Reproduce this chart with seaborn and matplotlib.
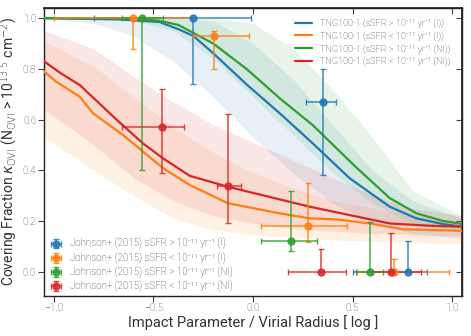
import numpy as np
import pandas as pd
import seaborn as sns
import matplotlib.pyplot as plt
from matplotlib.legend import Legend

sns.set_theme(style="ticks")
plt.rcParams['font.family'] = ['Roboto', 'DejaVu Sans']
plt.rcParams['font.weight'] = 'light'
plt.rcParams['mathtext.fontset'] = 'dejavusans'

colors = ['#1f77b4', '#ff7f0e', '#2ca02c', '#d62728']
labels = [
    'TNG100-1 (sSFR > 10⁻¹¹ yr⁻¹ (I))',
    'TNG100-1 (sSFR < 10⁻¹¹ yr⁻¹ (I))',
    'TNG100-1 (sSFR > 10⁻¹¹ yr⁻¹ (NI))',
    'TNG100-1 (sSFR < 10⁻¹¹ yr⁻¹ (NI))',
]
obs_labels = [
    'Johnson+ (2015) sSFR > 10⁻¹¹ yr⁻¹ (I)',
    'Johnson+ (2015) sSFR < 10⁻¹¹ yr⁻¹ (I)',
    'Johnson+ (2015) sSFR > 10⁻¹¹ yr⁻¹ (NI)',
    'Johnson+ (2015) sSFR < 10⁻¹¹ yr⁻¹ (NI)',
]

# TNG median curves
blue_x = [-1.05, -0.67, -0.47, -0.37, -0.30, -0.20, -0.03, 0.134, 0.30, 0.486, 0.687, 0.821, 0.953, 1.05]
blue_y = [1.0, 0.995, 0.985, 0.955, 0.93, 0.862, 0.737, 0.625, 0.506, 0.368, 0.256, 0.21, 0.188, 0.177]
orange_x = [-1.05, -0.99, -0.87, -0.804, -0.653, -0.452, -0.318, -0.127, 0.134, 0.285, 0.42, 0.586, 0.753, 1.05]
orange_y = [0.79, 0.75, 0.69, 0.625, 0.539, 0.408, 0.342, 0.27, 0.23, 0.21, 0.206, 0.19, 0.167, 0.161]
green_x = [-1.05, -0.6, -0.47, -0.374, -0.2, -0.033, 0.134, 0.30, 0.52, 0.687, 0.821, 0.953, 1.05]
green_y = [1.0, 0.998, 0.99, 0.973, 0.90, 0.80, 0.684, 0.578, 0.41, 0.29, 0.23, 0.20, 0.188]
red_x = [-1.05, -0.97, -0.87, -0.686, -0.553, -0.452, -0.318, -0.127, 0.134, 0.285, 0.486, 0.687, 0.888, 1.05]
red_y = [0.83, 0.785, 0.736, 0.60, 0.506, 0.447, 0.378, 0.335, 0.285, 0.256, 0.223, 0.19, 0.181, 0.177]

# scatter bands on a common grid
band_x = [-1.05, -0.8, -0.6, -0.4, -0.2, 0.0, 0.2, 0.4, 0.6, 0.8, 1.05]
blue_lo = [1.0, 0.98, 0.93, 0.83, 0.69, 0.53, 0.39, 0.27, 0.19, 0.15, 0.13]
blue_hi = [1.0, 1.0, 1.0, 1.0, 0.99, 0.90, 0.76, 0.58, 0.40, 0.28, 0.21]
green_lo = [1.0, 1.0, 0.99, 0.95, 0.84, 0.69, 0.54, 0.39, 0.27, 0.19, 0.16]
green_hi = [1.0, 1.0, 1.0, 1.0, 1.0, 0.98, 0.88, 0.72, 0.53, 0.32, 0.22]
orange_lo = [0.53, 0.40, 0.30, 0.21, 0.165, 0.145, 0.135, 0.125, 0.12, 0.115, 0.11]
orange_hi = [0.91, 0.81, 0.69, 0.57, 0.47, 0.39, 0.33, 0.28, 0.25, 0.22, 0.20]
red_lo = [0.64, 0.50, 0.37, 0.28, 0.22, 0.19, 0.17, 0.16, 0.15, 0.145, 0.14]
red_hi = [0.95, 0.88, 0.77, 0.67, 0.58, 0.51, 0.44, 0.37, 0.30, 0.25, 0.22]

# Johnson+ (2015) observations
obs_blue = dict(x=[-0.30, 0.352, 0.781], y=[1.0, 0.669, 0.0],
                xlo=[-0.80, 0.268, 0.50], xhi=[-0.01, 0.419, 0.876],
                ylo=[0.74, 0.381, 0.0], yhi=[1.0, 0.80, 0.12])
obs_orange = dict(x=[-0.603, -0.196, 0.278, 0.707], y=[1.0, 0.93, 0.18, 0.0],
                  xlo=[-1.0, -0.30, 0.042, 0.52], xhi=[-0.30, -0.022, 0.472, 0.985],
                  ylo=[0.879, 0.80, 0.118, 0.0], yhi=[1.0, 0.95, 0.351, 0.05])
obs_green = dict(x=[-0.556, 0.189, 0.59], y=[1.0, 0.12, 0.0],
                 xlo=[-0.66, 0.04, 0.516], xhi=[-0.45, 0.319, 0.653],
                 ylo=[0.40, 0.081, 0.0], yhi=[1.0, 0.319, 0.197])
obs_red = dict(x=[-0.457, -0.126, 0.342, 0.695], y=[0.569, 0.339, 0.0, 0.0],
               xlo=[-0.656, -0.181, 0.176, 0.60], xhi=[-0.347, -0.058, 0.469, 0.844],
               ylo=[0.39, 0.19, 0.0, 0.0], yhi=[0.72, 0.621, 0.089, 0.151])

fig = plt.figure(figsize=(4.71, 3.36), dpi=100)
ax = fig.add_axes([0.0934, 0.120, 0.8876, 0.856])

bands = [(blue_lo, blue_hi), (orange_lo, orange_hi), (green_lo, green_hi), (red_lo, red_hi)]
for c, (lo, hi) in zip(colors, bands):
    ax.fill_between(band_x, lo, hi, color=c, alpha=0.11, lw=0, zorder=1)

curves = [(blue_x, blue_y), (orange_x, orange_y), (green_x, green_y), (red_x, red_y)]
df = pd.concat([pd.DataFrame({'x': cx, 'y': cy, 'run': lab})
                for (cx, cy), lab in zip(curves, labels)], ignore_index=True)
sns.lineplot(data=df, x='x', y='y', hue='run', palette=colors, hue_order=labels,
             estimator=None, sort=False, lw=1.6, legend=False, ax=ax, zorder=3)
line_handles = ax.get_lines()[:4]

obs_handles = []
for c, obs in zip(colors, [obs_blue, obs_orange, obs_green, obs_red]):
    x = np.array(obs['x']); y = np.array(obs['y'])
    xerr = [x - np.array(obs['xlo']), np.array(obs['xhi']) - x]
    yerr = [y - np.array(obs['ylo']), np.array(obs['yhi']) - y]
    h = ax.errorbar(x, y, xerr=xerr, yerr=yerr, fmt='o', color=c, ms=5,
                    elinewidth=1.1, capsize=2.2, capthick=1.0, zorder=5, alpha=0.85)
    obs_handles.append(h)

ax.set_xlim(-1.05, 1.05)
ax.set_ylim(-0.095, 1.04)
ax.set_xticks([-1.0, -0.5, 0.0, 0.5, 1.0])
ax.set_yticks([0.0, 0.2, 0.4, 0.6, 0.8, 1.0])
ax.tick_params(direction='out', length=4, width=0.8, labelsize=7.4, pad=1.5, colors='#444444')
ax.set_xlabel('Impact Parameter / Virial Radius [ log ]', fontsize=10.5, color='#333333', labelpad=1.5)
ax.set_ylabel(r'Covering Fraction $\kappa_{\rm OVI}$ (N$_{\rm OVI}$ > 10$^{13.5}$ cm$^{-2}$)',
              fontsize=10, color='#333333')
ax.yaxis.set_label_coords(-0.057, 0.5)
for s in ax.spines.values():
    s.set_color('#222222')
    s.set_linewidth(1.0)

top = ax.secondary_xaxis('top')
top.set_xticks([-1.0, -0.5, 0.0, 0.5, 1.0])
top.tick_params(direction='in', length=4, width=0.8, labeltop=False, colors='#444444')
right = ax.secondary_yaxis('right')
right.set_yticks([0.0, 0.2, 0.4, 0.6, 0.8, 1.0])
right.tick_params(direction='in', length=4, width=0.8, labelright=False, colors='#444444')

leg1 = ax.legend(line_handles, labels, loc='upper right', frameon=False, fontsize=6.6,
                 handlelength=1.85, handletextpad=0.9, labelspacing=0.36, borderaxespad=0.2,
                 bbox_to_anchor=(0.985, 0.983))
for t in leg1.get_texts():
    t.set_color('#333333')
leg2 = Legend(ax, obs_handles, obs_labels, loc='lower left', frameon=False, fontsize=7.0,
              handlelength=1.3, handleheight=0.6, labelspacing=0.28, borderaxespad=0.0,
              bbox_to_anchor=(0.005, 0.0))
for t in leg2.get_texts():
    t.set_color('#333333')
ax.add_artist(leg2)

fig.savefig('out.png', dpi=100)
